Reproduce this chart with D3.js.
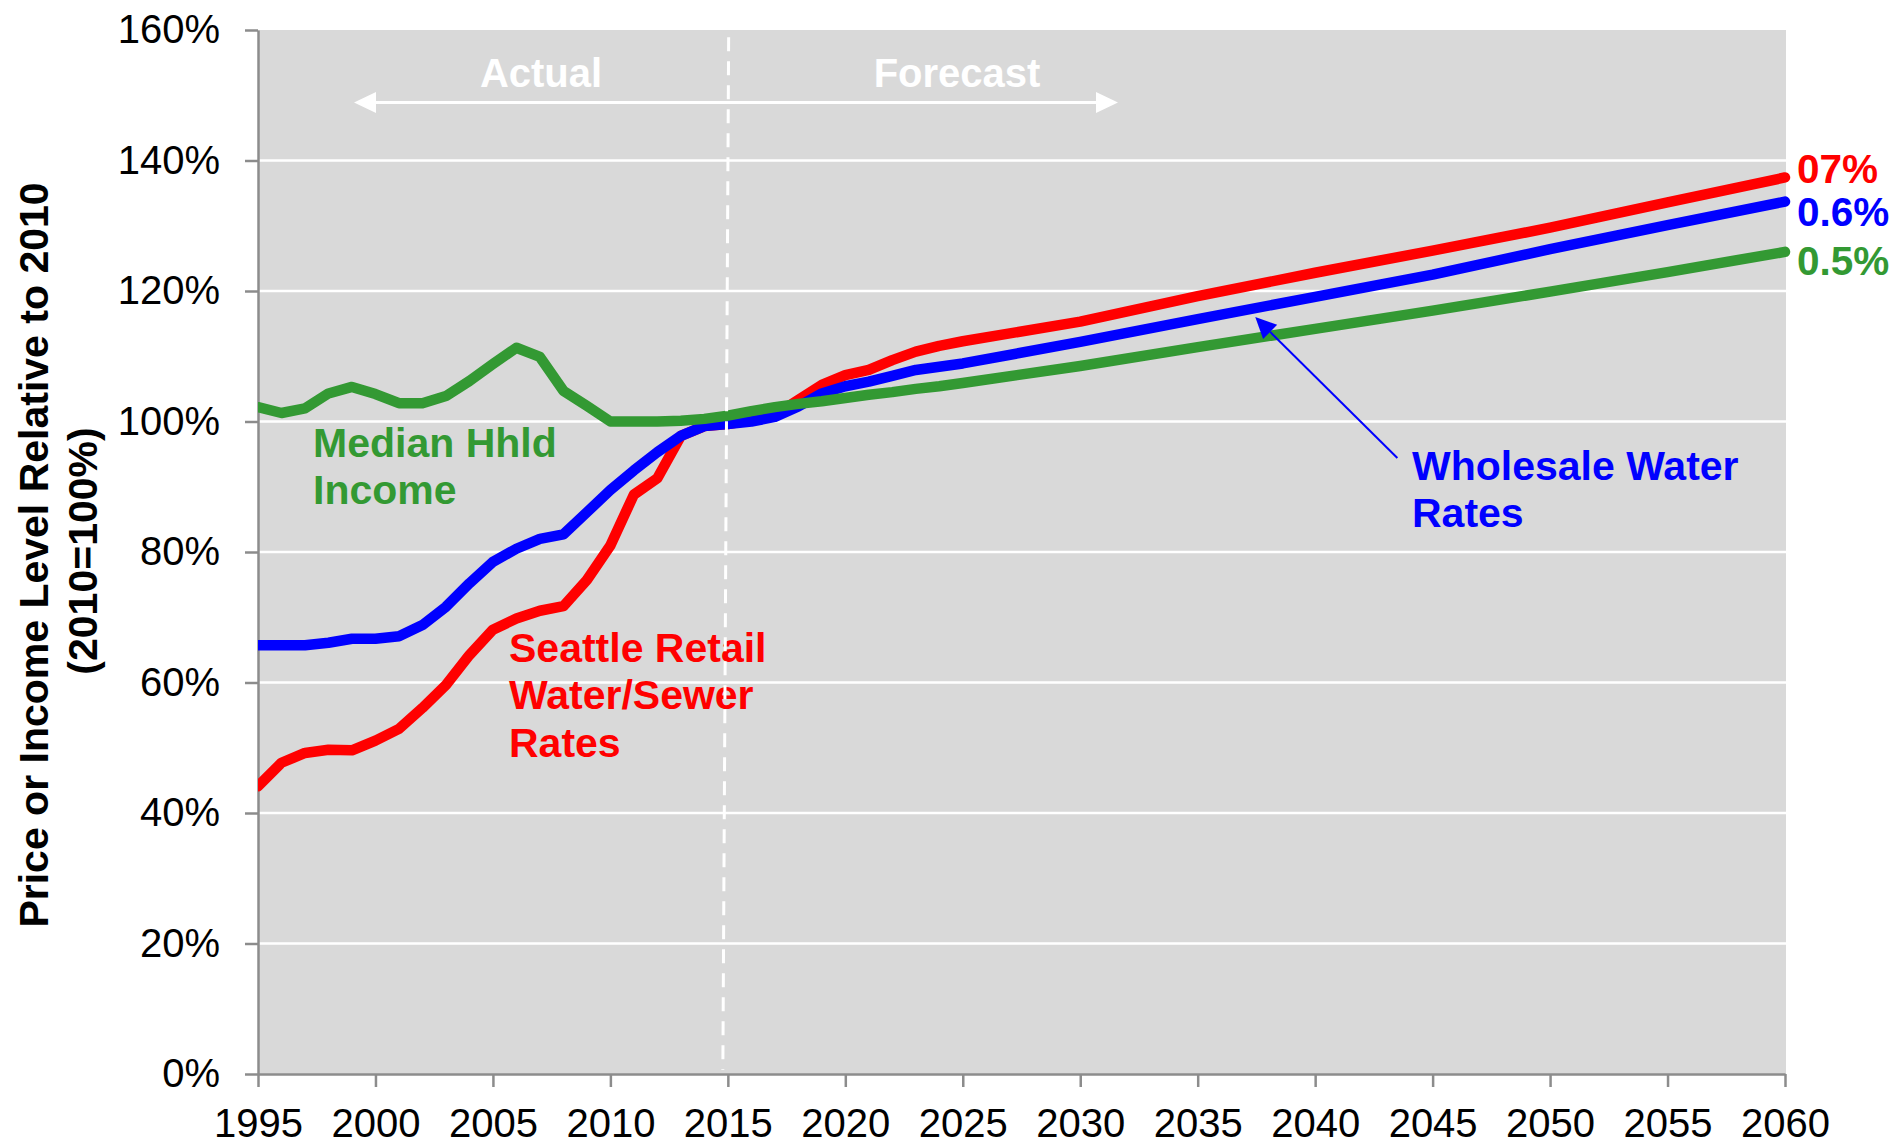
<!DOCTYPE html>
<html>
<head>
<meta charset="utf-8">
<script src="https://cdn.jsdelivr.net/npm/d3@7"></script>
<style>
  body { margin: 0; background: #fff; }
  text { font-family: "Liberation Sans", Arial, sans-serif; }
</style>
</head>
<body>
<svg id="chart"></svg>
<script>
// years (yearly to 2025, then every 5 years - straight segments)
const years = [1995,1996,1997,1998,1999,2000,2001,2002,2003,2004,2005,2006,2007,2008,2009,2010,
               2011,2012,2013,2014,2015,2016,2017,2018,2019,2020,2021,2022,2023,2024,2025,
               2030,2035,2040,2045,2050,2055,2060];
// Seattle retail water/sewer rates (% of 2010)
const retail = [44.1,47.7,49.2,49.7,49.6,51.1,52.9,56.1,59.6,64.2,68.1,69.8,71.0,71.7,75.7,81.0,
                88.8,91.3,97.8,99.3,99.6,100.2,101.0,103.3,105.6,107.1,107.9,109.4,110.7,111.6,112.3,
                115.3,119.2,122.8,126.2,129.7,133.6,137.4];
// wholesale water rates
const wholesale = [65.7,65.7,65.7,66.1,66.7,66.7,67.1,68.8,71.6,75.2,78.5,80.5,82.0,82.7,86.1,89.5,
                   92.5,95.3,97.8,99.3,99.6,100.0,100.7,102.3,104.3,105.4,106.1,107.0,107.9,108.4,108.9,
                   112.2,115.7,119.1,122.5,126.4,130.1,133.7];
// median household income
const income = [102.2,101.3,102.0,104.3,105.3,104.2,102.8,102.8,103.9,106.2,108.8,111.3,109.9,104.7,102.4,100.0,
                100.0,100.0,100.1,100.4,100.9,101.6,102.2,102.7,103.1,103.6,104.1,104.5,105.0,105.4,105.9,
                108.5,111.4,114.2,117.0,119.9,122.9,126.0];

const yTicks = [0,20,40,60,80,100,120,140,160];
const xTicks = [1995,2000,2005,2010,2015,2020,2025,2030,2035,2040,2045,2050,2055,2060];
const endLabels = ["07%", "0.6%", "0.5%"];

const width = 1895, height = 1144;
const marginLeft = 258, marginRight = 110, marginTop = 30, marginBottom = 70;

const x = d3.scaleLinear().domain([1995, 2060]).range([marginLeft, width - marginRight]);
const y = d3.scaleLinear().domain([0, 160]).range([height - marginBottom, marginTop]);

const svg = d3.select("#chart")
    .attr("width", width)
    .attr("height", height)
    .attr("viewBox", [0, 0, width, height]);

// plot background
svg.append("rect")
    .attr("x", x(1995))
    .attr("y", y(160))
    .attr("width", x(2060) - x(1995) + 1)
    .attr("height", y(0) - y(160))
    .attr("fill", "#d9d9d9");

// gridlines
svg.append("g")
    .selectAll("line")
    .data(yTicks.filter(d => d > 0 && d < 160))
    .join("line")
    .attr("x1", x(1995))
    .attr("x2", x(2060) + 1)
    .attr("y1", d => y(d))
    .attr("y2", d => y(d))
    .attr("stroke", "#fff")
    .attr("stroke-width", 2.5);

// axes
const yAxis = svg.append("g")
    .attr("transform", `translate(${marginLeft},0)`)
    .call(d3.axisLeft(y).tickValues(yTicks).tickSize(13).tickSizeOuter(0).tickPadding(25).tickFormat(d => d + "%"));
const xAxis = svg.append("g")
    .attr("transform", `translate(0,${y(0)})`)
    .call(d3.axisBottom(x).tickValues(xTicks).tickSize(13).tickSizeOuter(0).tickPadding(22).tickFormat(d3.format("d")));
[yAxis, xAxis].forEach(g => {
  g.selectAll("path, line").attr("stroke", "#8c8c8c").attr("stroke-width", 2.5);
  g.selectAll("text").attr("font-size", 40).attr("fill", "#000")
      .attr("font-family", "'Liberation Sans', Arial, sans-serif");
});

// y axis title
svg.append("text")
    .attr("transform", `translate(48,555) rotate(-90)`)
    .attr("text-anchor", "middle")
    .attr("font-size", 41)
    .attr("font-weight", "bold")
    .text("Price or Income Level Relative to 2010");
svg.append("text")
    .attr("transform", `translate(97,551) rotate(-90)`)
    .attr("text-anchor", "middle")
    .attr("font-size", 41)
    .attr("font-weight", "bold")
    .text("(2010=100%)");

// Actual / Forecast arrow
const ay = 102.5;
svg.append("line")
    .attr("x1", 360).attr("x2", 1110)
    .attr("y1", ay).attr("y2", ay)
    .attr("stroke", "#fff").attr("stroke-width", 3);
svg.append("path")
    .attr("d", `M354,${ay} L376,${ay - 10.5} L376,${ay + 10.5} Z M1118,${ay} L1096,${ay - 10.5} L1096,${ay + 10.5} Z`)
    .attr("fill", "#fff");
svg.append("text")
    .attr("x", 541).attr("y", 87)
    .attr("text-anchor", "middle")
    .attr("font-size", 40).attr("font-weight", "bold").attr("fill", "#fff")
    .text("Actual");
svg.append("text")
    .attr("x", 957).attr("y", 87)
    .attr("text-anchor", "middle")
    .attr("font-size", 40).attr("font-weight", "bold").attr("fill", "#fff")
    .text("Forecast");

// series
svg.append("clipPath").attr("id", "plotclip")
  .append("rect")
    .attr("x", x(1995)).attr("y", 0)
    .attr("width", width - x(1995)).attr("height", height);

const line = d3.line().x((d, i) => x(years[i])).y(d => y(d));
const series = [
  {values: retail, color: "#ff0000"},
  {values: wholesale, color: "#0000ff"},
  {values: income, color: "#339933"}
];
svg.append("g")
    .attr("clip-path", "url(#plotclip)")
    .selectAll("path")
    .data(series)
    .join("path")
    .attr("fill", "none")
    .attr("stroke", d => d.color)
    .attr("stroke-width", 10.5)
    .attr("stroke-linejoin", "round")
    .attr("stroke-linecap", "round")
    .attr("d", d => line(d.values));

// end-of-line growth labels
svg.append("g")
    .selectAll("text")
    .data(series)
    .join("text")
    .attr("x", 1797)
    .attr("y", (d, i) => [183, 226, 275][i])
    .attr("font-size", 40.5)
    .attr("font-weight", "bold")
    .attr("fill", d => d.color)
    .text((d, i) => endLabels[i]);

// series labels
function label(lines, x0, y0, color) {
  const t = svg.append("text")
      .attr("font-size", 41).attr("font-weight", "bold").attr("fill", color);
  lines.forEach((s, i) => t.append("tspan").attr("x", x0).attr("y", y0 + i * 47.3).text(s));
}
label(["Median Hhld", "Income"], 313, 457, "#339933");
label(["Seattle Retail", "Water/Sewer", "Rates"], 509, 662, "#ff0000");
label(["Wholesale Water", "Rates"], 1412, 480, "#0000ff");

// pointer to wholesale line
const p0 = [x(2043.5), y(94.4)], p1 = [x(2037.45), y(116.0)];
const ang = Math.atan2(p1[1] - p0[1], p1[0] - p0[0]);
const hl = 21, hw = 10;
const bx = p1[0] - hl * Math.cos(ang), by = p1[1] - hl * Math.sin(ang);
svg.append("line")
    .attr("x1", p0[0]).attr("y1", p0[1])
    .attr("x2", bx).attr("y2", by)
    .attr("stroke", "#0000ff").attr("stroke-width", 2);
svg.append("path")
    .attr("d", `M${p1[0]},${p1[1]} L${bx + hw * Math.sin(ang)},${by - hw * Math.cos(ang)} L${bx - hw * Math.sin(ang)},${by + hw * Math.cos(ang)} Z`)
    .attr("fill", "#0000ff");

// 2015 divider (dashed)
svg.append("line")
    .attr("x1", x(2015) + 0.8).attr("y1", y(158.9))
    .attr("x2", x(2015) - 5).attr("y2", y(0.6))
    .attr("stroke", "#fff")
    .attr("stroke-width", 3)
    .attr("stroke-dasharray", "14,10");
</script>
</body>
</html>
